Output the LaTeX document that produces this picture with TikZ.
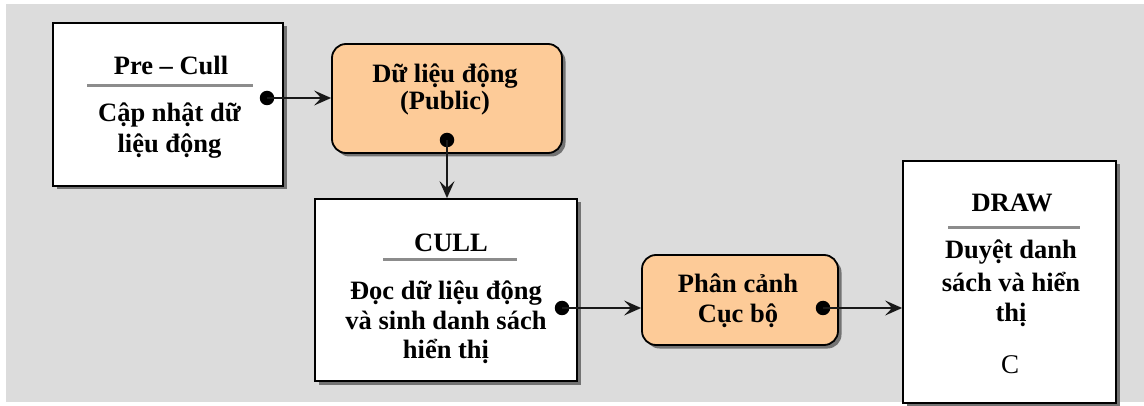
\documentclass[tikz,border=0pt]{standalone}
\usepackage{fontspec}
\setmainfont{Liberation Serif}
\usetikzlibrary{arrows.meta,shadows}
\definecolor{panel}{HTML}{DCDCDC}
\definecolor{peach}{HTML}{FDCB98}
\definecolor{rule}{HTML}{8C8C8C}
\begin{document}
\begin{tikzpicture}[x=1pt,y=-1pt,
  boxshadow/.style={drop shadow={shadow xshift=3.5pt,shadow yshift=-3.5pt,fill=black!55,opacity=1}},
  stagebox/.style={draw=black,line width=1.8pt,fill=white,boxshadow,inner sep=0pt},
  databox/.style={draw=black,line width=1.8pt,fill=peach,rounded corners=14pt,boxshadow,inner sep=0pt},
  label/.style={anchor=base,inner sep=0pt,font=\fontsize{26.5}{31}\selectfont\bfseries},
  plain/.style={anchor=base,inner sep=0pt,font=\fontsize{27}{31}\selectfont},
  titlerule/.style={draw=rule,line width=3pt},
  port/.style={circle,fill=black,inner sep=0pt,minimum size=14.5pt},
  link/.style={draw=black!90,line width=2pt,-{Stealth[length=17pt,width=15pt,inset=7pt]}}
]
\useasboundingbox (0,0) rectangle (1144,406);
% backdrop panel
\fill[panel] (6,4) rectangle (1144,402);

% boxes
\node[stagebox,minimum width=230pt,minimum height=163pt] (precull) at (168,104.5) {};
\node[databox,minimum width=230pt,minimum height=109pt] (dyn) at (447,98.5) {};
\node[stagebox,minimum width=262pt,minimum height=182pt] (cull) at (446,290) {};
\node[databox,minimum width=196pt,minimum height=90pt] (local) at (740,300) {};
\node[stagebox,minimum width=213pt,minimum height=242pt] (drawbox) at (1009.5,282) {};

% Pre-Cull stage
\node[label] (pcT) at (171,75) {Pre – Cull};
\draw[titlerule] (87,86) -- (253,86);
\node[label] (pcA) at (169.5,122) {Cập nhật dữ};
\node[label] (pcB) at (169.5,153) {liệu động};

% shared dynamic data
\node[label] (dyA) at (445,83) {Dữ liệu động};
\node[label] (dyB) at (445,110) {(Public)};

% Cull stage
\node[label] (cuT) at (451,252) {CULL};
\draw[titlerule] (383,260) -- (517,260);
\node[label] (cuA) at (446,300) {Đọc dữ liệu động};
\node[label] (cuB) at (446,330) {và sinh danh sách};
\node[label] (cuC) at (446,359) {hiển thị};

% local scene
\node[label] (loA) at (738,293) {Phân cảnh};
\node[label] (loB) at (738,323) {Cục bộ};

% Draw stage
\node[label] (drT) at (1012,212) {DRAW};
\draw[titlerule] (948,228) -- (1080,228);
\node[label] (drA) at (1011,259) {Duyệt danh};
\node[label] (drB) at (1011,291) {sách và hiển};
\node[label] (drC) at (1011,322) {thị};
\node[plain] (drD) at (1010,373) {C};

% output ports
\node[port] (p1) at (267,98) {};
\node[port] (p2) at (447,140) {};
\node[port] (p3) at (562,308) {};
\node[port] (p4) at (823,308) {};

% data flow
\draw[link] (p1.center) -- (p1 -| dyn.west);
\draw[link] (p2.center) -- (p2 |- cull.north);
\draw[link] (p3.center) -- (p3 -| local.west);
\draw[link] (p4.center) -- (p4 -| drawbox.west);
\end{tikzpicture}
\end{document}
